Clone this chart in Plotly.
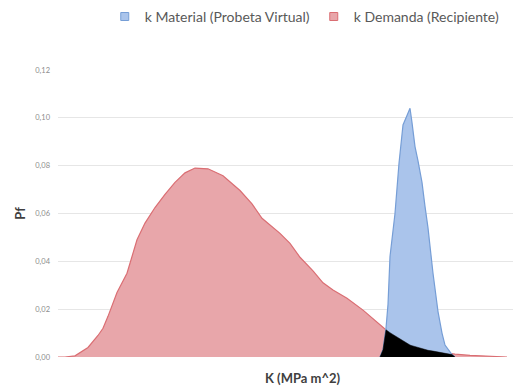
import numpy as np
import plotly.graph_objects as go

# K values (arbitrary linear units along the category axis) and Pf values
k_demanda = [0, 3.5, 8.5, 15, 20, 22.5, 25, 29.5, 34.5, 37.5, 39.5, 43.5, 48.5, 53.5, 58.5,
             63.5, 68.5, 75, 82.5, 91, 97, 102, 111, 116, 121, 127.5, 132.5, 137.5, 144.5,
             152.5, 159.5, 164.5, 170, 176, 183.5, 191, 198.5, 206, 213.5, 221, 224.5]
pf_demanda = [0, 0, 0.0005, 0.004, 0.009, 0.012, 0.017, 0.027, 0.035, 0.0435, 0.049, 0.056,
              0.0625, 0.068, 0.073, 0.077, 0.079, 0.0787, 0.0758, 0.0696, 0.064, 0.058, 0.0517,
              0.0475, 0.0417, 0.036, 0.031, 0.028, 0.0246, 0.0196, 0.0146, 0.011, 0.008,
              0.005, 0.003, 0.002, 0.0012, 0.0007, 0.0003, 0.0001, 0]

k_material = [161, 162.5, 164, 165, 166, 167, 168.5, 170.5, 172.5, 174.5, 176, 177, 178.5, 180,
              182, 183.5, 185, 187.5, 190, 192, 193.5, 197, 198.5]
pf_material = [0, 0.003, 0.012, 0.022, 0.042, 0.050, 0.060, 0.081, 0.097, 0.101, 0.104, 0.098,
               0.088, 0.082, 0.073, 0.063, 0.054, 0.035, 0.019, 0.010, 0.005, 0.001, 0]

y_ticks = [0, 0.02, 0.04, 0.06, 0.08, 0.10, 0.12]

# overlap region (min of both densities)
k_ov = np.unique(np.concatenate([k_material, [k for k in k_demanda if k_material[0] <= k <= k_material[-1]]]))
pf_ov = np.minimum(np.interp(k_ov, k_demanda, pf_demanda),
                   np.interp(k_ov, k_material, pf_material, left=0, right=0))

red_fill = "rgb(232,166,170)"
red_line = "rgb(218,110,115)"
blue_fill = "rgb(170,196,235)"
blue_line = "rgb(118,158,214)"

fig = go.Figure()
fig.add_trace(go.Scatter(x=k_demanda, y=pf_demanda, mode="lines", fill="tozeroy",
                         fillcolor=red_fill, line=dict(color=red_line, width=1.2),
                         showlegend=False, name="k Demanda (Recipiente)"))
fig.add_trace(go.Scatter(x=k_material, y=pf_material, mode="lines", fill="tozeroy",
                         fillcolor=blue_fill, line=dict(color=blue_line, width=1.2),
                         showlegend=False, name="k Material (Probeta Virtual)"))
fig.add_trace(go.Scatter(x=k_ov, y=pf_ov, mode="lines", fill="tozeroy",
                         fillcolor="black", line=dict(color="black", width=0.5),
                         showlegend=False))
# legend entries
fig.add_trace(go.Scatter(x=[None], y=[None], mode="markers", name="k Material (Probeta Virtual)",
                         marker=dict(symbol="square", size=8, color=blue_fill,
                                     line=dict(color=blue_line, width=1))))
fig.add_trace(go.Scatter(x=[None], y=[None], mode="markers", name="k Demanda (Recipiente)",
                         marker=dict(symbol="square", size=8, color=red_fill,
                                     line=dict(color=red_line, width=1))))

fig.update_layout(
    width=521, height=387,
    margin=dict(l=50, r=8, t=62, b=38, autoexpand=False),
    paper_bgcolor="white", plot_bgcolor="white",
    separators=",.",
    font=dict(family="Lato, Open Sans, sans-serif", color="#595959"),
    showlegend=True,
    legend=dict(orientation="h", x=0.101, y=1.185, xanchor="left", yanchor="middle",
                font=dict(size=14, color="#595959"), itemwidth=30,
                entrywidth=164, bgcolor="rgba(0,0,0,0)"),
    xaxis=dict(range=[0, 231.5], showgrid=False, showticklabels=False, ticks="",
               zeroline=False, showline=False, automargin=False),
    yaxis=dict(range=[0, 0.12], tickvals=y_ticks, tickformat=".2f", automargin=False,
               showgrid=True, gridcolor="#e6e6e6", gridwidth=1, zeroline=False,
               tickfont=dict(size=7.5, color="#8c8c8c"), ticks="", ticklen=0,
               ticklabelstandoff=7,
               title=dict(text="<b>Pf</b>", font=dict(size=13, color="#404040"), standoff=6)),
    annotations=[dict(text="<b>K (MPa m^2)</b>", xref="paper", yref="paper",
                      x=(302 - 58) / 463, y=-0.073, xanchor="center", yanchor="middle",
                      showarrow=False, font=dict(size=13, color="#404040"))],
)

fig.write_html("out.html")
